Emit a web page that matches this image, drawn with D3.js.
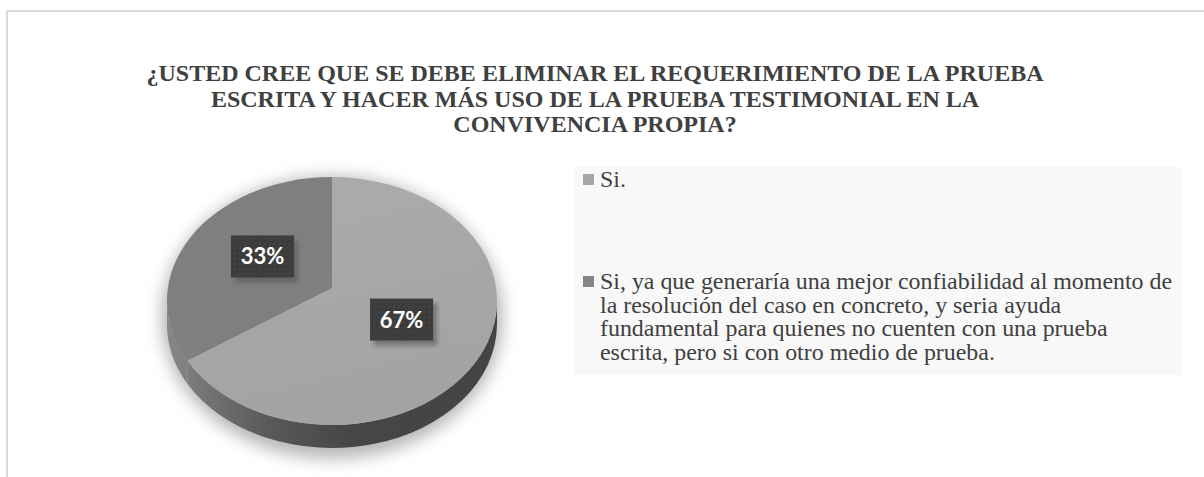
<html>
<head>
  <meta charset="utf-8">
  <title>Prueba testimonial</title>
  <script src="https://d3js.org/d3.v7.min.js"></script>
  <style>
    body { margin: 0; background: #ffffff; }
  </style>
</head>
<body>
<script>
// data
var categories = ["Si.",
  "Si, ya que generaría una mejor confiabilidad al momento de la resolución del caso en concreto, y seria ayuda fundamental para quienes no cuenten con una prueba escrita, pero si con otro medio de prueba."];
var values = [67, 33];
var percentLabels = ["67%", "33%"];
// how the legend text wraps in the original
var legendLines = [
  ["Si."],
  ["Si, ya que generaría una mejor confiabilidad al momento de",
   "la resolución del caso en concreto, y seria ayuda",
   "fundamental para quienes no cuenten con una prueba",
   "escrita, pero si con otro medio de prueba."]
];
var titleLines = ["¿USTED CREE QUE SE DEBE ELIMINAR EL REQUERIMIENTO DE LA PRUEBA",
  "ESCRITA Y HACER MÁS USO DE LA PRUEBA TESTIMONIAL EN LA",
  "CONVIVENCIA PROPIA?"];

var width = 1204, height = 477;
var svg = d3.select("body").append("svg").attr("width", width).attr("height", height);
var defs = svg.append("defs");

// frame of the chart (only top and left edges are in view)
svg.append("line").attr("x1", 7).attr("y1", 11).attr("x2", width).attr("y2", 11)
   .attr("stroke", "#cfcfcf").attr("stroke-width", 1.5);
svg.append("line").attr("x1", 7).attr("y1", 11).attr("x2", 7).attr("y2", height)
   .attr("stroke", "#cfcfcf").attr("stroke-width", 1.5);

// title
svg.append("g").selectAll("text").data(titleLines).enter().append("text")
   .attr("x", 595).attr("y", function(d, i) { return 81 + i * 25.5; })
   .attr("text-anchor", "middle")
   .style("font-family", "'Liberation Serif', 'Times New Roman', serif")
   .style("font-weight", "bold").style("font-size", "24px").style("fill", "#404040")
   .text(function(d) { return d; });

// ---- pie geometry ----
var cx = 332, cy = 301, rx = 165, ry = 124, depth = 23;
var vy = 288; // apex of slices (perspective)
var topColors = ["#a6a6a6", "#7f7f7f"];

function pt(a, dy) { return [cx + rx * Math.sin(a), cy - ry * Math.cos(a) + (dy || 0)]; }

var pie = d3.pie().sort(null).value(function(d) { return d; });
var arcs = pie(values);

// soft shadow under the pie
var blur = defs.append("filter").attr("id", "blur").attr("x", "-30%").attr("y", "-30%")
   .attr("width", "160%").attr("height", "160%");
blur.append("feGaussianBlur").attr("stdDeviation", 8);
svg.append("ellipse").attr("cx", cx).attr("cy", cy + depth / 2 + 5)
   .attr("rx", rx + 6).attr("ry", ry + depth / 2 + 6)
   .attr("fill", "#b8b8b8").attr("filter", "url(#blur)");

// gradient for the side wall
var sideGrad = defs.append("linearGradient").attr("id", "side")
   .attr("gradientUnits", "userSpaceOnUse")
   .attr("x1", cx - rx).attr("x2", cx + rx).attr("y1", 0).attr("y2", 0);
sideGrad.append("stop").attr("offset", 0).attr("stop-color", "#858585");
sideGrad.append("stop").attr("offset", 0.3).attr("stop-color", "#5a5a5a");
sideGrad.append("stop").attr("offset", 0.55).attr("stop-color", "#464646");
sideGrad.append("stop").attr("offset", 1).attr("stop-color", "#444444");

// side wall of the front half (angles between pi/2 and 3pi/2 are visible)
var sides = svg.append("g");
arcs.forEach(function(d, i) {
  var a0 = Math.max(d.startAngle, Math.PI / 2), a1 = Math.min(d.endAngle, 3 * Math.PI / 2);
  if (a1 <= a0) return;
  var p0 = pt(a0), p1 = pt(a1), q1 = pt(a1, depth), q0 = pt(a0, depth);
  var large = (a1 - a0) > Math.PI ? 1 : 0;
  var path = "M" + p0 + " A" + rx + " " + ry + " 0 " + large + " 1 " + p1 +
             " L" + q1 + " A" + rx + " " + ry + " 0 " + large + " 0 " + q0 + " Z";
  sides.append("path").attr("d", path).attr("fill", "url(#side)");
  if (i === 1) sides.append("path").attr("d", path).attr("fill", "#8a8a8a").attr("opacity", 0.25);
});

// top faces
var topGrad = defs.append("linearGradient").attr("id", "top0")
   .attr("x1", 0).attr("y1", 0).attr("x2", 0.3).attr("y2", 1);
topGrad.append("stop").attr("offset", 0).attr("stop-color", "#acacac");
topGrad.append("stop").attr("offset", 1).attr("stop-color", "#a3a3a3");

svg.append("g").selectAll("path").data(arcs).enter().append("path")
   .attr("d", function(d) {
     var p0 = pt(d.startAngle), p1 = pt(d.endAngle);
     var large = (d.endAngle - d.startAngle) > Math.PI ? 1 : 0;
     return "M" + cx + "," + vy + " L" + p0 + " A" + rx + " " + ry + " 0 " + large + " 1 " + p1 + " Z";
   })
   .attr("fill", function(d, i) { return i === 0 ? "url(#top0)" : topColors[i]; });

// data labels: dark dotted boxes
var dots = defs.append("pattern").attr("id", "dots").attr("patternUnits", "userSpaceOnUse")
   .attr("width", 5).attr("height", 5);
dots.append("rect").attr("width", 5).attr("height", 5).attr("fill", "#3c3c3c");
dots.append("rect").attr("x", 2).attr("y", 2).attr("width", 1).attr("height", 1).attr("fill", "#5e5e5e");

var shadowF = defs.append("filter").attr("id", "lblshadow").attr("x", "-30%").attr("y", "-30%")
   .attr("width", "160%").attr("height", "160%");
shadowF.append("feGaussianBlur").attr("stdDeviation", 2);

var boxW = 63, boxH = 42;
var labels = svg.append("g").selectAll("g").data(arcs).enter().append("g")
   .attr("transform", function(d) {
     var m = (d.startAngle + d.endAngle) / 2;
     var x = cx + 0.49 * rx * Math.sin(m);
     var y = vy - 0.5 * ry * Math.cos(m);
     return "translate(" + x + "," + y + ")";
   });
labels.append("rect").attr("x", -boxW / 2 + 4).attr("y", -boxH / 2 + 5)
   .attr("width", boxW).attr("height", boxH).attr("fill", "#555").attr("opacity", 0.6)
   .attr("filter", "url(#lblshadow)");
labels.append("rect").attr("x", -boxW / 2).attr("y", -boxH / 2)
   .attr("width", boxW).attr("height", boxH).attr("fill", "url(#dots)");
labels.append("text").attr("text-anchor", "middle").attr("y", 8)
   .style("font-family", "Lato, 'Open Sans', sans-serif").style("font-weight", "bold")
   .style("font-size", "22px").style("fill", "#ffffff")
   .text(function(d, i) { return percentLabels[i]; });

// ---- legend ----
svg.append("rect").attr("x", 574).attr("y", 167).attr("width", 608).attr("height", 208)
   .attr("fill", "#f8f8f8");

var legendTop = [187, 289];
var legend = svg.append("g").selectAll("g").data(categories).enter().append("g")
   .attr("transform", function(d, i) { return "translate(583," + legendTop[i] + ")"; });
legend.append("rect").attr("x", 0).attr("y", -13).attr("width", 11).attr("height", 11)
   .attr("fill", function(d, i) { return i === 0 ? "#a6a6a6" : "#858585"; });
legend.append("text")
   .attr("transform", "translate(17,0) scale(1.063,1)")
   .style("font-family", "'Liberation Serif', 'Times New Roman', serif")
   .style("font-size", "22.5px").style("fill", "#404040")
   .selectAll("tspan").data(function(d, i) { return legendLines[i]; }).enter().append("tspan")
   .attr("x", 0).attr("y", function(d, j) { return j * 23.6; })
   .text(function(d) { return d; });
</script>
</body>
</html>
